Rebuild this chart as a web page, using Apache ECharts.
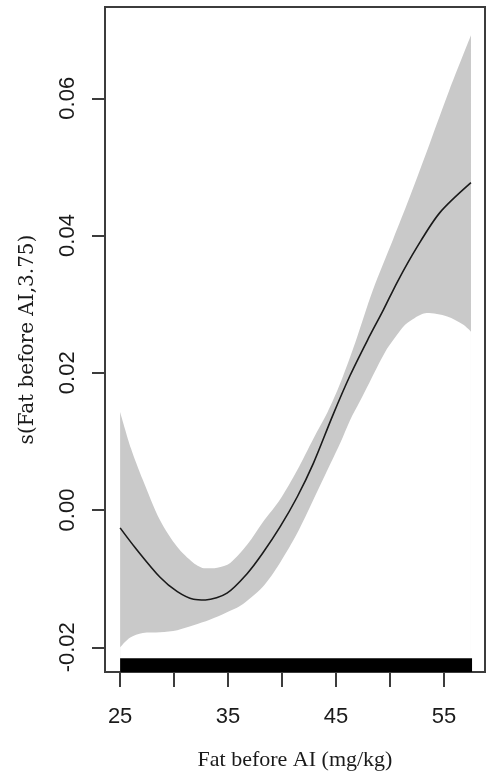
<!DOCTYPE html>
<html lang="en">
<head>
    <meta charset="UTF-8">
    <title>s(Fat before AI)</title>
    <script src="https://cdnjs.cloudflare.com/ajax/libs/echarts/6.0.0/echarts.min.js"></script>
    <style>
        html, body { margin: 0; padding: 0; background: #fff; }
        #box { width: 488px; height: 784px; }
    </style>
</head>
<body>
<div id="box"></div>
<script>
    // fitted smooth
    var fitX = [25.0, 26.4, 28.7, 30.3, 31.8, 32.9, 34.9, 36.8, 38.2, 39.8, 41.4, 42.9, 44.7, 46.3, 47.9, 49.4, 50.7, 52.5, 54.6, 57.5];
    var fitY = [-0.0026, -0.0055, -0.0098, -0.0119, -0.0130, -0.0131, -0.0121, -0.0092, -0.0063, -0.0025, 0.0019, 0.0068, 0.0138, 0.0196, 0.0247, 0.0292, 0.0333, 0.0383, 0.0433, 0.0477];
    // upper band edge
    var upperX = [25.0, 26.0, 27.1, 28.7, 30.3, 31.8, 32.9, 34.0, 35.2, 36.8, 38.2, 39.8, 41.4, 42.9, 44.2, 45.4, 46.8, 48.4, 50.3, 51.8, 53.7, 55.5, 57.5];
    var upperY = [0.0143, 0.0090, 0.0044, -0.0015, -0.0054, -0.0077, -0.0085, -0.0084, -0.0077, -0.0050, -0.0018, 0.0015, 0.0058, 0.0104, 0.0142, 0.0185, 0.0245, 0.0320, 0.0395, 0.0455, 0.0535, 0.0612, 0.0692];
    // lower band edge
    var lowerX = [25.0, 25.9, 27.1, 28.7, 30.3, 31.8, 33.3, 34.9, 36.1, 38.2, 39.8, 41.4, 42.9, 44.5, 45.4, 46.3, 47.2, 48.1, 49.5, 50.5, 51.4, 52.3, 53.4, 55.3, 56.8, 57.5];
    var lowerY = [-0.0200, -0.0186, -0.0179, -0.0178, -0.0175, -0.0168, -0.0160, -0.0149, -0.0140, -0.0112, -0.0077, -0.0034, 0.0015, 0.0068, 0.0098, 0.0131, 0.0158, 0.0186, 0.0229, 0.0252, 0.0270, 0.0280, 0.0287, 0.0282, 0.0270, 0.0260];
    // rug of observations (merged into one bar)
    var rugRange = [25.0, 57.6];

    var xTicks = [25, 30, 35, 40, 45, 50, 55];
    var xLabels = [25, 35, 45, 55];
    var yTicks = [-0.02, 0, 0.02, 0.04, 0.06];

    var X_MIN = 23.6, X_MAX = 58.8;
    var Y_MIN = -0.0236, Y_MAX = 0.0733;
    var RUG_TOP = -0.0216;

    function pairs(xs, ys) {
        return xs.map(function (x, i) { return [x, ys[i]]; });
    }

    var chart = echarts.init(document.getElementById('box'));
    var tickFont = { fontFamily: 'Liberation Sans', fontSize: 22, color: '#1a1a1a' };

    var option = {
        animation: false,
        grid: {
            left: 105, top: 7, right: 3, bottom: 112,
            show: true, borderColor: '#3c3c3c', borderWidth: 2
        },
        xAxis: {
            type: 'value', min: X_MIN, max: X_MAX,
            name: 'Fat before AI (mg/kg)',
            nameLocation: 'middle', nameGap: 77,
            nameTextStyle: { fontFamily: 'Liberation Serif', fontSize: 22, color: '#1a1a1a' },
            splitLine: { show: false },
            axisLine: { show: false, onZero: false },
            axisTick: { show: true, length: 15, customValues: xTicks, lineStyle: { color: '#3c3c3c', width: 2 } },
            axisLabel: Object.assign({ customValues: xLabels, margin: 34 }, tickFont)
        },
        yAxis: {
            type: 'value', min: Y_MIN, max: Y_MAX,
            name: 's(Fat before AI,3.75)',
            nameLocation: 'middle', nameGap: 67, nameRotate: 90,
            nameTextStyle: { fontFamily: 'DejaVu Serif', fontSize: 20, color: '#1a1a1a' },
            splitLine: { show: false },
            axisLine: { show: false, onZero: false },
            axisTick: { show: true, length: 13, customValues: yTicks, lineStyle: { color: '#3c3c3c', width: 2 } },
            axisLabel: Object.assign({
                customValues: yTicks, rotate: 90, margin: 26,
                formatter: function (v) { return v.toFixed(2); }
            }, tickFont)
        },
        series: [
            {
                name: 'upper', type: 'line', smooth: 0.3, showSymbol: false, silent: true,
                lineStyle: { width: 0 },
                areaStyle: { color: '#c9c9c9', opacity: 1, origin: 'start' },
                data: pairs(upperX, upperY)
            },
            {
                name: 'lower', type: 'line', smooth: 0.3, showSymbol: false, silent: true,
                lineStyle: { width: 0 },
                areaStyle: { color: '#ffffff', opacity: 1, origin: 'start' },
                data: pairs(lowerX, lowerY)
            },
            {
                name: 'fit', type: 'line', smooth: 0.3, showSymbol: false, silent: true,
                lineStyle: { color: '#1a1a1a', width: 1.6 },
                data: pairs(fitX, fitY),
                // rug
                markArea: {
                    silent: true, z: 5,
                    itemStyle: { color: '#000', opacity: 1 },
                    data: [[
                        { coord: [rugRange[0], Y_MIN] },
                        { coord: [rugRange[1], RUG_TOP] }
                    ]]
                }
            }
        ]
    };
    chart.setOption(option);
</script>
</body>
</html>
